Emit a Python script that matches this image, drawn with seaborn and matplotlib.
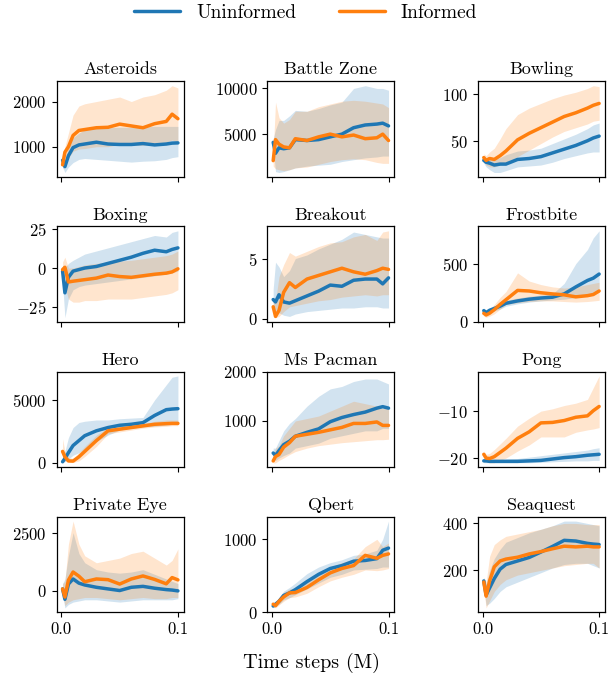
import numpy as np
import pandas as pd
import matplotlib
matplotlib.use("Agg")
import matplotlib.pyplot as plt
import seaborn as sns

# ---------------- data ----------------
steps = [0.001, 0.003, 0.006, 0.01, 0.015, 0.02, 0.03, 0.04, 0.05, 0.06, 0.07, 0.08, 0.09, 0.095, 0.1]
games = ["Asteroids", "Battle Zone", "Bowling", "Boxing", "Breakout", "Frostbite",
         "Hero", "Ms Pacman", "Pong", "Private Eye", "Qbert", "Seaquest"]
series_names = ["Uninformed", "Informed"]

asteroids_u = [700, 560, 800, 980, 1040, 1060, 1100, 1060, 1050, 1050, 1070, 1040, 1060, 1080, 1085]
asteroids_u_lo = [550, 430, 550, 650, 720, 740, 720, 700, 680, 660, 680, 690, 720, 760, 780]
asteroids_u_hi = [850, 700, 1000, 1200, 1300, 1380, 1420, 1420, 1430, 1430, 1440, 1450, 1450, 1450, 1450]
asteroids_i = [600, 880, 1000, 1250, 1360, 1380, 1420, 1430, 1500, 1460, 1420, 1510, 1560, 1720, 1620]
asteroids_i_lo = [500, 700, 750, 900, 950, 960, 1000, 1000, 1050, 1050, 1030, 1080, 1100, 1150, 1100]
asteroids_i_hi = [700, 1000, 1300, 1700, 1900, 1950, 2000, 2050, 2100, 2000, 2100, 2150, 2250, 2350, 2300]

battle_u = [4100, 2900, 3500, 3400, 3500, 4400, 4300, 4400, 4700, 5000, 5700, 6000, 6100, 6200, 5900]
battle_u_lo = [3500, 900, 800, 900, 1100, 1300, 1500, 1600, 1700, 2000, 2200, 2400, 2500, 2600, 2600]
battle_u_hi = [4500, 5500, 6500, 6500, 7000, 7600, 7500, 7800, 8200, 8500, 10000, 10300, 10000, 10000, 9800]
battle_i = [2100, 4400, 3900, 3600, 3500, 4500, 4300, 4700, 5000, 4700, 4900, 4500, 4600, 5000, 4300]
battle_i_lo = [1500, 1200, 1100, 1000, 1100, 1300, 1400, 1700, 2000, 2200, 2300, 2200, 1900, 1800, 1800]
battle_i_hi = [3000, 8500, 6800, 6200, 6600, 7500, 7500, 8000, 8300, 8600, 8700, 8600, 8400, 8300, 7900]

bowling_u = [29, 27, 26, 24, 25, 25, 30, 31, 33, 37, 41, 45, 50, 53, 55]
bowling_u_lo = [26, 22, 19, 16, 16, 18, 22, 23, 24, 27, 31, 34, 37, 38, 38]
bowling_u_hi = [32, 30, 30, 30, 32, 35, 39, 40, 42, 47, 52, 57, 63, 67, 69]
bowling_i = [32, 29, 31, 30, 34, 39, 51, 58, 64, 70, 76, 80, 85, 88, 90]
bowling_i_lo = [28, 24, 22, 22, 24, 27, 33, 40, 47, 54, 60, 64, 68, 71, 72]
bowling_i_hi = [36, 34, 38, 42, 52, 63, 78, 85, 90, 95, 99, 102, 106, 109, 108]

boxing_u = [-2, -16, -6, -2, -1, 0, 1, 3, 5, 7, 9.5, 11.5, 10.5, 12, 13]
boxing_u_lo = [-10, -32, -20, -14, -12, -11, -10, -9, -8, -7, -6, -5, -4, -3, -2]
boxing_u_hi = [2, 0, 3, 5, 7, 9, 11, 13, 15, 17, 19, 21, 20, 23, 24]
boxing_i = [-1, 0.5, -9, -8.5, -8, -7.5, -6.5, -4.5, -5.5, -6, -5, -4, -3.3, -2.5, -0.5]
boxing_i_lo = [-6, -12, -20, -22, -22, -21, -21, -20, -20, -20, -19, -18, -17, -16, -14]
boxing_i_hi = [4, 7, 0, 0, 1, 2, 3, 4, 4.5, 5, 6, 7, 8, 9, 11]

breakout_u = [1.6, 1.4, 2.0, 1.4, 1.3, 1.5, 1.9, 2.3, 2.8, 2.7, 3.2, 3.3, 3.3, 2.9, 3.4]
breakout_u_lo = [0.8, 0.6, 0.5, 0.3, 0.2, 0.4, 0.6, 0.7, 0.8, 0.9, 0.9, 1.0, 1.0, 0.9, 0.9]
breakout_u_hi = [2.5, 4.7, 4.3, 3.5, 4.0, 5.0, 5.3, 5.8, 6.2, 6.6, 7.2, 7.0, 6.8, 6.7, 6.7]
breakout_i = [1.0, 0.2, 0.7, 2.2, 3.0, 2.6, 3.3, 3.6, 3.9, 4.2, 3.9, 3.7, 4.0, 4.2, 4.1]
breakout_i_lo = [0.5, 0.1, 0.2, 0.6, 1.0, 1.1, 1.3, 1.5, 1.6, 1.8, 1.9, 2.0, 1.9, 2.0, 2.0]
breakout_i_hi = [1.5, 1.5, 3.5, 4.5, 5.5, 5.2, 5.6, 6.0, 6.3, 6.4, 6.8, 7.0, 6.5, 7.2, 7.3]

frostbite_u = [97, 80, 100, 115, 135, 160, 180, 195, 205, 212, 240, 300, 355, 375, 410]
frostbite_u_lo = [75, 60, 80, 95, 110, 135, 155, 170, 180, 188, 195, 210, 230, 250, 260]
frostbite_u_hi = [120, 100, 120, 140, 160, 185, 205, 220, 230, 240, 330, 500, 620, 720, 780]
frostbite_i = [74, 60, 75, 105, 150, 190, 270, 265, 250, 240, 232, 215, 225, 235, 265]
frostbite_i_lo = [50, 40, 50, 70, 110, 150, 165, 175, 180, 180, 175, 170, 175, 180, 185]
frostbite_i_hi = [100, 85, 110, 150, 210, 260, 420, 350, 320, 300, 290, 300, 320, 330, 340]

hero_u = [80, 340, 800, 1370, 1760, 2150, 2540, 2800, 2980, 3060, 3190, 3760, 4220, 4270, 4300]
hero_u_lo = [0, 100, 300, 600, 800, 1100, 1700, 2200, 2600, 2750, 2850, 2900, 3000, 3050, 3050]
hero_u_hi = [300, 900, 2000, 2800, 3200, 3300, 3400, 3400, 3500, 3550, 3600, 5000, 6200, 6800, 6900]
hero_i = [900, 470, 150, 130, 470, 900, 1760, 2540, 2670, 2800, 2930, 3060, 3110, 3130, 3130]
hero_i_lo = [300, 150, 20, 20, 150, 500, 1300, 2300, 2450, 2600, 2750, 2850, 2900, 2950, 2950]
hero_i_hi = [1900, 900, 400, 350, 800, 1300, 2200, 2800, 2900, 3000, 3100, 3300, 3400, 3400, 3400]

pacman_u = [350, 300, 400, 520, 590, 690, 770, 840, 985, 1070, 1130, 1180, 1260, 1290, 1260]
pacman_u_lo = [250, 200, 250, 300, 350, 450, 500, 550, 650, 700, 750, 800, 800, 850, 850]
pacman_u_hi = [450, 450, 600, 800, 950, 1050, 1300, 1500, 1650, 1700, 1800, 1850, 1850, 1800, 1750]
pacman_i = [190, 280, 320, 470, 560, 690, 730, 770, 820, 870, 950, 950, 980, 910, 910]
pacman_i_lo = [150, 150, 200, 250, 320, 380, 450, 500, 530, 560, 580, 600, 620, 620, 630]
pacman_i_hi = [300, 450, 500, 700, 850, 1000, 1050, 1100, 1200, 1300, 1400, 1350, 1300, 1250, 1250]

pong_u = [-20.6, -20.6, -20.7, -20.7, -20.7, -20.7, -20.7, -20.6, -20.5, -20.2, -19.9, -19.7, -19.4, -19.3, -19.2]
pong_u_lo = [-21.0, -21.0, -21.0, -21.0, -21.0, -21.0, -21.0, -21.0, -20.9, -20.8, -20.7, -20.6, -20.6, -20.5, -20.5]
pong_u_hi = [-20.2, -20.2, -20.3, -20.3, -20.3, -20.2, -20.1, -19.8, -19.5, -19.2, -18.9, -18.6, -18.3, -18.0, -17.8]
pong_i = [-19.2, -20.0, -20.1, -19.7, -18.8, -17.9, -15.8, -14.4, -12.5, -12.4, -12.0, -11.3, -11.0, -9.9, -9.0]
pong_i_lo = [-20.0, -20.8, -21.0, -21.0, -20.5, -20.0, -18.5, -17.2, -15.5, -15.5, -15.5, -14.5, -14.0, -13.8, -13.5]
pong_i_hi = [-18.5, -19.2, -19.0, -18.2, -17.0, -15.8, -13.2, -11.5, -10.0, -9.5, -8.8, -8.3, -7.5, -5.0, -2.5]

eye_u = [70, -380, 280, 500, 320, 240, 140, 70, 0, 140, 180, 100, 40, 20, -15]
eye_u_lo = [-200, -750, -600, -500, -450, -400, -400, -450, -500, -450, -400, -400, -400, -400, -350]
eye_u_hi = [300, 500, 1500, 2500, 1600, 1200, 900, 800, 750, 800, 900, 700, 500, 400, 300]
eye_i = [70, -280, 450, 800, 620, 380, 500, 470, 280, 500, 630, 480, 290, 560, 460]
eye_i_lo = [-150, -650, -500, -400, -350, -300, -300, -350, -400, -350, -300, -350, -350, -300, -300]
eye_i_hi = [300, 400, 2000, 3000, 2000, 1500, 1200, 1300, 1400, 1600, 1700, 1400, 1100, 1300, 1800]

qbert_u = [85, 110, 150, 230, 265, 310, 420, 520, 600, 640, 700, 710, 735, 850, 880]
qbert_u_lo = [60, 80, 110, 170, 200, 240, 320, 400, 480, 520, 580, 590, 600, 620, 620]
qbert_u_hi = [110, 150, 200, 290, 340, 400, 530, 620, 680, 720, 780, 800, 850, 1000, 1250]
qbert_i = [110, 90, 150, 210, 265, 270, 340, 445, 540, 600, 640, 780, 740, 780, 800]
qbert_i_lo = [80, 60, 100, 150, 200, 210, 260, 350, 430, 480, 520, 580, 570, 580, 600]
qbert_i_hi = [140, 130, 200, 270, 320, 330, 410, 520, 620, 680, 730, 900, 1000, 900, 950]

seaquest_u = [155, 95, 125, 165, 205, 225, 240, 255, 278, 302, 328, 325, 315, 312, 310]
seaquest_u_lo = [130, 50, 60, 80, 110, 130, 150, 170, 190, 210, 225, 230, 230, 220, 210]
seaquest_u_hi = [170, 140, 200, 250, 290, 320, 340, 360, 375, 390, 410, 410, 400, 395, 390]
seaquest_i = [150, 90, 155, 215, 240, 248, 256, 270, 280, 292, 303, 300, 303, 300, 300]
seaquest_i_lo = [120, 40, 70, 110, 140, 160, 180, 190, 200, 210, 220, 225, 230, 230, 210]
seaquest_i_hi = [170, 150, 260, 310, 330, 345, 355, 365, 375, 390, 400, 400, 395, 395, 395]

ytick_values = [[1000, 2000], [5000, 10000], [50, 100], [-25, 0, 25], [0, 5], [0, 500],
                [0, 5000], [1000, 2000], [-20, -10], [0, 2500], [0, 1000], [200, 400]]
xtick_values = [0.0, 0.1]

panel_data = {
    "Asteroids": (asteroids_u, asteroids_u_lo, asteroids_u_hi, asteroids_i, asteroids_i_lo, asteroids_i_hi),
    "Battle Zone": (battle_u, battle_u_lo, battle_u_hi, battle_i, battle_i_lo, battle_i_hi),
    "Bowling": (bowling_u, bowling_u_lo, bowling_u_hi, bowling_i, bowling_i_lo, bowling_i_hi),
    "Boxing": (boxing_u, boxing_u_lo, boxing_u_hi, boxing_i, boxing_i_lo, boxing_i_hi),
    "Breakout": (breakout_u, breakout_u_lo, breakout_u_hi, breakout_i, breakout_i_lo, breakout_i_hi),
    "Frostbite": (frostbite_u, frostbite_u_lo, frostbite_u_hi, frostbite_i, frostbite_i_lo, frostbite_i_hi),
    "Hero": (hero_u, hero_u_lo, hero_u_hi, hero_i, hero_i_lo, hero_i_hi),
    "Ms Pacman": (pacman_u, pacman_u_lo, pacman_u_hi, pacman_i, pacman_i_lo, pacman_i_hi),
    "Pong": (pong_u, pong_u_lo, pong_u_hi, pong_i, pong_i_lo, pong_i_hi),
    "Private Eye": (eye_u, eye_u_lo, eye_u_hi, eye_i, eye_i_lo, eye_i_hi),
    "Qbert": (qbert_u, qbert_u_lo, qbert_u_hi, qbert_i, qbert_i_lo, qbert_i_hi),
    "Seaquest": (seaquest_u, seaquest_u_lo, seaquest_u_hi, seaquest_i, seaquest_i_lo, seaquest_i_hi),
}

# ---------------- style ----------------
sns.set_style("ticks")
plt.rcParams["font.family"] = ["serif"]
plt.rcParams["font.serif"] = ["cmr10", "DejaVu Serif"]
plt.rcParams["mathtext.fontset"] = "cm"
plt.rcParams["axes.formatter.use_mathtext"] = True
plt.rcParams["axes.edgecolor"] = "black"
plt.rcParams["xtick.color"] = "black"
plt.rcParams["ytick.color"] = "black"
plt.rcParams["text.color"] = "black"

colors = {"Uninformed": "#1f77b4", "Informed": "#ff7f0e"}

fig, axes = plt.subplots(4, 3, figsize=(6.11, 6.78), dpi=100, sharex=True)
fig.subplots_adjust(left=0.093, right=0.99, top=0.88, bottom=0.097, wspace=0.66, hspace=0.52)

for ax, game, yt in zip(axes.flat, games, ytick_values):
    u, ulo, uhi, inf, ilo, ihi = panel_data[game]
    df = pd.DataFrame({
        "step": steps + steps,
        "score": u + inf,
        "lo": ulo + ilo,
        "hi": uhi + ihi,
        "method": ["Uninformed"] * len(steps) + ["Informed"] * len(steps),
    })
    for name in series_names:
        sub = df[df["method"] == name]
        ax.fill_between(sub["step"], sub["lo"], sub["hi"], color=colors[name], alpha=0.2, linewidth=0)
    sns.lineplot(data=df, x="step", y="score", hue="method", hue_order=series_names,
                 palette=colors, linewidth=2.5, ax=ax, legend=False, errorbar=None)
    ax.set_title(game, fontsize=13, pad=5)
    ax.set_xlabel("")
    ax.set_ylabel("")
    ax.set_yticks(yt)
    ax.set_xticks(xtick_values)
    ax.tick_params(labelsize=12, length=3.5, width=0.8)
    for sp in ax.spines.values():
        sp.set_linewidth(0.9)
        sp.set_visible(True)

for ax in axes[-1]:
    ax.set_xticklabels(["0.0", "0.1"])

handles = [plt.Line2D([], [], color=colors[n], linewidth=2.5) for n in series_names]
fig.legend(handles, series_names, loc="upper center", bbox_to_anchor=(0.5, 1.02), ncol=2,
           frameon=False, fontsize=14, handlelength=2.4, columnspacing=2.2)
fig.text(0.51, 0.022, "Time steps (M)", ha="center", va="center", fontsize=14.5)

fig.savefig("out.png", dpi=100)
